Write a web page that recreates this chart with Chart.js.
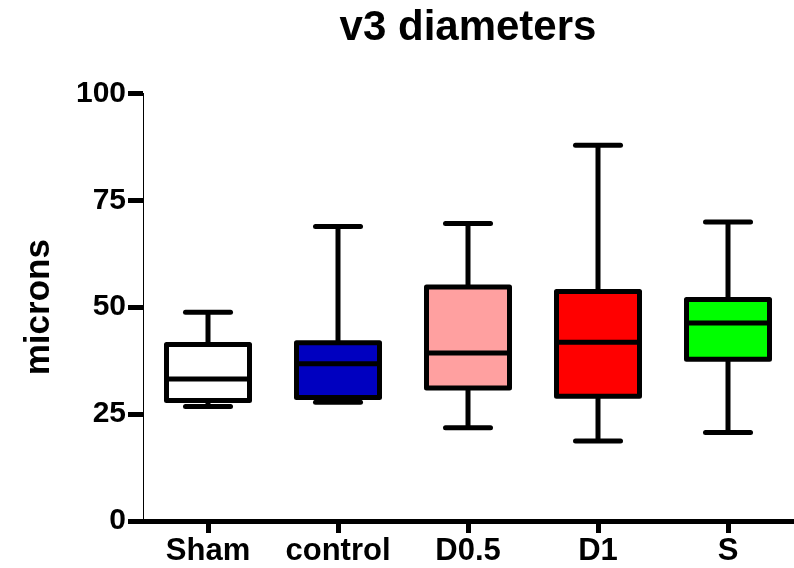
<!DOCTYPE html>
<html>
<head>
<meta charset="utf-8">
<title>v3 diameters</title>
<script src="https://cdn.jsdelivr.net/npm/chart.js@4.4.0/dist/chart.umd.min.js"></script>
<style>
    html, body { margin: 0; padding: 0; background: #ffffff; }
    #wrap { width: 794px; height: 568px; }
</style>
</head>
<body>
<div id="wrap"><canvas id="boxChart" width="794" height="568"></canvas></div>
<script>
(function() {
    'use strict';

    // Box plot values (microns)
    var categories = ['Sham', 'control', 'D0.5', 'D1', 'S'];
    var minValues = [26.8, 27.8, 21.8, 18.7, 20.7];
    var q1Values = [28.2, 28.9, 31.1, 29.2, 37.8];
    var medianValues = [33.2, 36.8, 39.3, 41.8, 46.3];
    var q3Values = [41.3, 41.7, 54.7, 53.7, 51.8];
    var maxValues = [48.8, 68.9, 69.6, 87.9, 69.9];
    var boxColors = ['#ffffff', '#0000c0', '#ffa0a0', '#ff0000', '#00ff00'];
    var yTickValues = [0, 25, 50, 75, 100];

    var fontFamily = '"Liberation Sans", Arial, Helvetica, sans-serif';

    // whiskers, caps, box outline and median line on top of the floating bars
    var boxPlotExtras = {
        id: 'boxPlotExtras',
        afterDatasetsDraw: function(chart) {
            var ctx = chart.ctx;
            var yScale = chart.scales.y;
            var meta = chart.getDatasetMeta(0);
            var capHalf = 22.5;

            function line(x1, y1, x2, y2, cap) {
                ctx.lineCap = cap;
                ctx.beginPath();
                ctx.moveTo(x1, y1);
                ctx.lineTo(x2, y2);
                ctx.stroke();
            }

            ctx.save();
            ctx.strokeStyle = '#000000';
            ctx.lineWidth = 5;
            meta.data.forEach(function(bar, i) {
                var cx = bar.x;
                var half = bar.width / 2;
                var top = yScale.getPixelForValue(q3Values[i]);
                var bottom = yScale.getPixelForValue(q1Values[i]);
                var hi = yScale.getPixelForValue(maxValues[i]);
                var lo = yScale.getPixelForValue(minValues[i]);
                var med = yScale.getPixelForValue(medianValues[i]);

                line(cx, top, cx, hi, 'butt');
                line(cx, bottom, cx, lo, 'butt');
                line(cx - capHalf, hi, cx + capHalf, hi, 'round');
                line(cx - capHalf, lo, cx + capHalf, lo, 'round');

                ctx.lineJoin = 'round';
                ctx.strokeRect(cx - half, top, bar.width, bottom - top);
                line(cx - half, med, cx + half, med, 'butt');
            });
            ctx.restore();
        }
    };

    var boxRanges = categories.map(function(c, i) {
        return [q1Values[i], q3Values[i]];
    });

    var ctx = document.getElementById('boxChart').getContext('2d');
    new Chart(ctx, {
        type: 'bar',
        data: {
            labels: categories,
            datasets: [{
                data: boxRanges,
                backgroundColor: boxColors,
                borderWidth: 0,
                barThickness: 83
            }]
        },
        plugins: [boxPlotExtras],
        options: {
            responsive: false,
            animation: false,
            layout: {
                padding: { left: 0, right: 1, top: 0, bottom: 0 }
            },
            plugins: {
                legend: { display: false },
                tooltip: { enabled: false },
                title: {
                    display: true,
                    text: 'v3 diameters',
                    fullSize: false,
                    color: '#000000',
                    font: { family: fontFamily, size: 42, weight: 'bold' },
                    padding: { top: 3, bottom: 40 }
                }
            },
            scales: {
                x: {
                    type: 'category',
                    offset: true,
                    border: { display: true, width: 5, color: '#000000' },
                    grid: {
                        offset: false,
                        drawOnChartArea: false,
                        drawTicks: true,
                        tickLength: 12,
                        tickWidth: 5,
                        tickColor: '#000000'
                    },
                    ticks: {
                        color: '#000000',
                        autoSkip: false,
                        maxRotation: 0,
                        padding: 0,
                        font: { family: fontFamily, size: 31, weight: 'bold' }
                    },
                    afterFit: function(scale) { scale.height = 47; }
                },
                y: {
                    min: 0,
                    max: 100,
                    border: { display: true, width: 1, color: '#000000' },
                    grid: {
                        drawOnChartArea: false,
                        drawTicks: true,
                        tickLength: 15,
                        tickWidth: 5,
                        tickColor: '#000000'
                    },
                    afterBuildTicks: function(scale) {
                        scale.ticks = yTickValues.map(function(v) { return { value: v }; });
                    },
                    ticks: {
                        color: '#000000',
                        padding: 2,
                        font: { family: fontFamily, size: 30, weight: 'bold' }
                    },
                    title: {
                        display: true,
                        text: 'microns',
                        color: '#000000',
                        font: { family: fontFamily, size: 35, weight: 'bold' },
                        padding: { top: 18, bottom: 0 }
                    },
                    afterFit: function(scale) { scale.width = 143; }
                }
            }
        }
    });
})();
</script>
</body>
</html>
